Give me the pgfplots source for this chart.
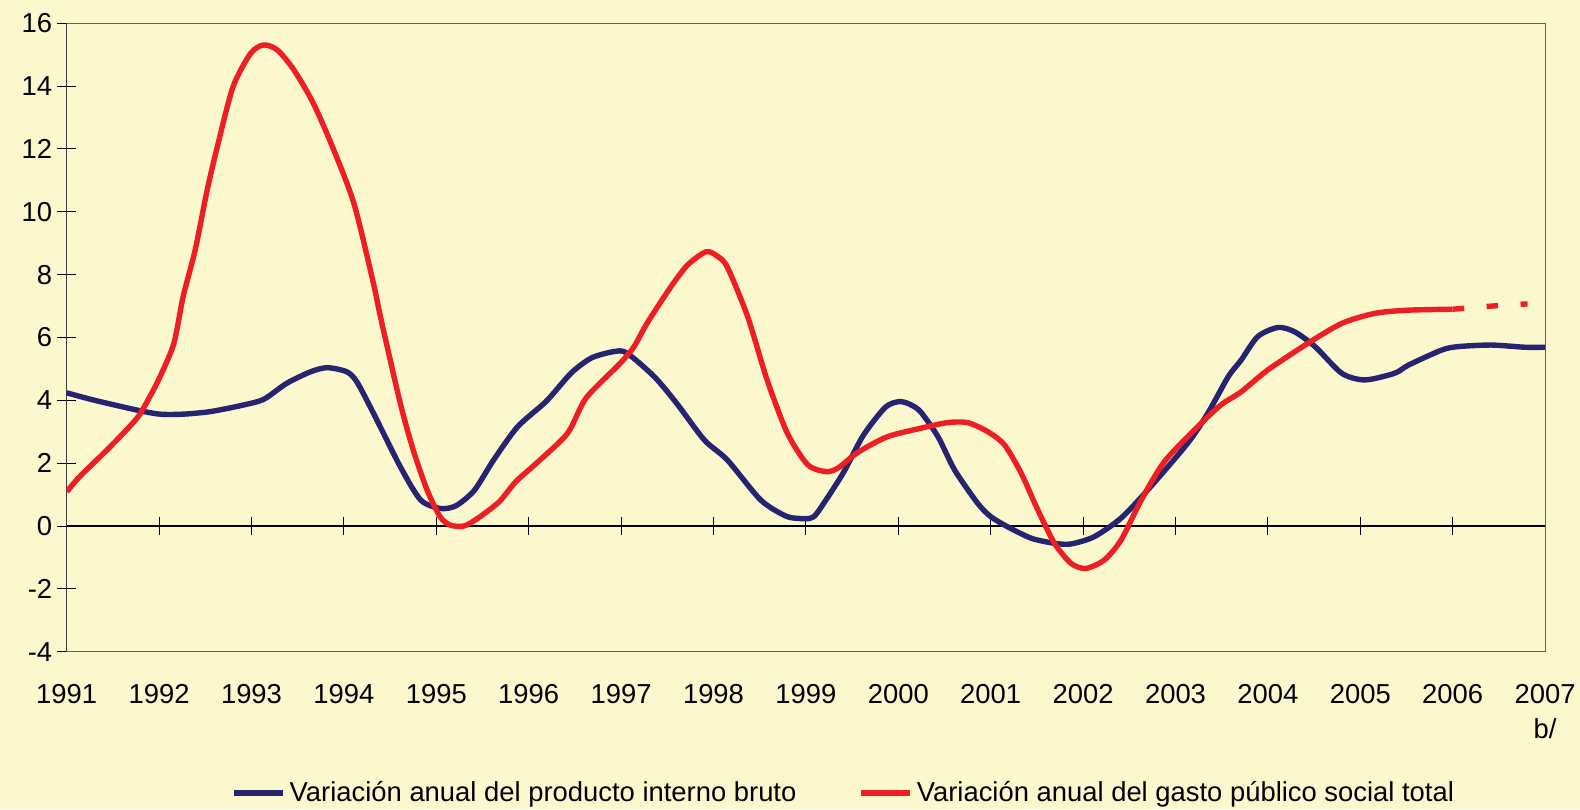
\documentclass[border=0pt]{standalone}
\usepackage{pgfplots}
\pgfplotsset{compat=1.18}
\usepackage{fontspec}
\setmainfont{Liberation Sans}
\definecolor{bgc}{RGB}{251,248,206}
\definecolor{pib}{RGB}{38,36,112}
\definecolor{gasto}{RGB}{237,30,36}
% x values are years after 1991 (0 = 1991, 16 = 2007)
\begin{document}
\begin{tikzpicture}
\fill[bgc] (0,0) rectangle (790pt,404.5pt);
\begin{axis}[
  at={(33.35pt,78.65pt)}, anchor=south west,
  scale only axis, width=739.2pt, height=314.2pt,
  xmin=0, xmax=16, ymin=-4, ymax=16,
  xtick={0,1,2,3,4,5,6,7,8,9,10,11,12,13,14,15,16},
  xticklabels={1991,1992,1993,1994,1995,1996,1997,1998,1999,2000,2001,2002,2003,2004,2005,2006,{2007\\b/}},
  ytick={-4,-2,0,2,4,6,8,10,12,14,16},
  yticklabels={-4,-2,0,2,4,6,8,10,12,14,16},
  ytick pos=left,
  tick label style={font=\fontsize{13.7}{17.5}\selectfont},
  xticklabel style={align=center, anchor=north, yshift=-8pt},
  yticklabel style={anchor=east, xshift=1pt},
  xtick style={draw=none},
  ytick style={black, line width=0.5pt},
  tick align=center, major tick length=9.5pt,
  axis line style={draw=gray!75!black, line width=0.6pt},
  axis background/.style={fill=bgc},
  legend columns=2,
  legend style={at={(axis description cs:0.1111,-0.2249)}, anchor=west, draw=none, fill=none,
    font=\fontsize{13.7}{16}\selectfont, inner sep=0pt,
    /tikz/every even column/.append style={column sep=29pt}},
  legend image code/.code={\draw[#1, line width=2.7pt] (0pt,0pt) -- (24.5pt,0pt);},
]
\draw[black, line width=0.6pt] (axis cs:0,0) -- (axis cs:16,0);
\pgfplotsinvokeforeach{1,2,3,4,5,6,7,8,9,10,11,12,13,14,15}{
  \draw[black, line width=0.5pt] ([yshift=-4.5pt]axis cs:#1,0) -- ([yshift=4.5pt]axis cs:#1,0);
}
\draw[black, line width=0.7pt] (rel axis cs:0,0) -- (rel axis cs:0,1);
\addplot[pib, line width=2.7pt, line join=round, smooth, tension=0.45] coordinates {
(0.00,4.24) (0.29,4.01) (0.76,3.69) (1.01,3.56) (1.26,3.56)
(1.55,3.64) (1.88,3.83) (2.13,4.03) (2.38,4.54) (2.64,4.91)
(2.82,5.04) (3.03,4.91) (3.14,4.59) (3.32,3.59) (3.61,1.89)
(3.83,0.83) (4.04,0.56) (4.21,0.64) (4.41,1.13) (4.62,2.10)
(4.88,3.16) (5.19,3.97) (5.46,4.87) (5.68,5.35) (5.92,5.55)
(6.06,5.51) (6.36,4.75) (6.60,3.91) (6.90,2.74) (7.15,2.10)
(7.51,0.83) (7.78,0.32) (7.93,0.24) (8.05,0.25) (8.13,0.45)
(8.40,1.67) (8.62,2.88) (8.86,3.78) (9.01,3.96) (9.12,3.88)
(9.24,3.64) (9.43,2.84) (9.61,1.78) (9.86,0.72) (10.00,0.30)
(10.18,-0.02) (10.44,-0.39) (10.69,-0.55) (10.87,-0.57) (11.12,-0.34)
(11.41,0.25) (11.70,1.15) (12.13,2.63) (12.35,3.59) (12.57,4.75)
(12.71,5.28) (12.89,6.03) (13.11,6.32) (13.29,6.18) (13.51,5.71)
(13.80,4.86) (14.05,4.65) (14.37,4.86) (14.52,5.12) (14.88,5.60)
(15.06,5.71) (15.42,5.76) (15.78,5.69) (16.00,5.69)
};
\addlegendentry{Variación anual del producto interno bruto}
\addplot[gasto, line width=2.7pt, line join=round, smooth, tension=0.45] coordinates {
(0.00,1.09) (0.14,1.57) (0.47,2.52) (0.76,3.43) (0.90,4.12)
(1.01,4.75) (1.16,5.81) (1.26,7.30) (1.39,8.78) (1.52,10.69)
(1.63,12.07) (1.80,13.98) (1.99,15.04) (2.13,15.31) (2.28,15.15)
(2.46,14.51) (2.67,13.45) (2.89,11.97) (3.11,10.25) (3.32,7.72)
(3.40,6.60) (3.61,3.91) (3.75,2.42) (3.90,1.15) (4.04,0.30)
(4.15,0.03) (4.30,0.00) (4.45,0.25) (4.68,0.77) (4.86,1.41)
(5.08,1.99) (5.42,2.95) (5.62,4.07) (5.99,5.18) (6.14,5.71)
(6.28,6.45) (6.54,7.62) (6.72,8.31) (6.92,8.73) (7.04,8.59)
(7.15,8.24) (7.37,6.66) (7.58,4.65) (7.80,2.95) (8.02,1.95)
(8.22,1.73) (8.35,1.85) (8.56,2.34) (8.88,2.84) (9.24,3.11)
(9.53,3.29) (9.75,3.29) (9.97,3.00) (10.15,2.58) (10.33,1.68)
(10.51,0.51) (10.69,-0.55) (10.87,-1.19) (11.03,-1.35) (11.23,-1.08)
(11.41,-0.45) (11.63,0.83) (11.88,2.05) (12.24,3.16) (12.49,3.85)
(12.71,4.27) (13.00,4.97) (13.43,5.81) (13.80,6.45) (14.16,6.77)
(14.52,6.87) (15.00,6.90)
};
\addlegendentry{Variación anual del gasto público social total}
\addplot[gasto, line width=2.7pt, dash pattern=on 5.75pt off 11.25pt, forget plot] coordinates {
(15.00,6.90) (15.42,7.00) (15.81,7.07)
};
\end{axis}
\pgfresetboundingbox
\useasboundingbox (0,0) rectangle (790pt,404.5pt);
\end{tikzpicture}
\end{document}
